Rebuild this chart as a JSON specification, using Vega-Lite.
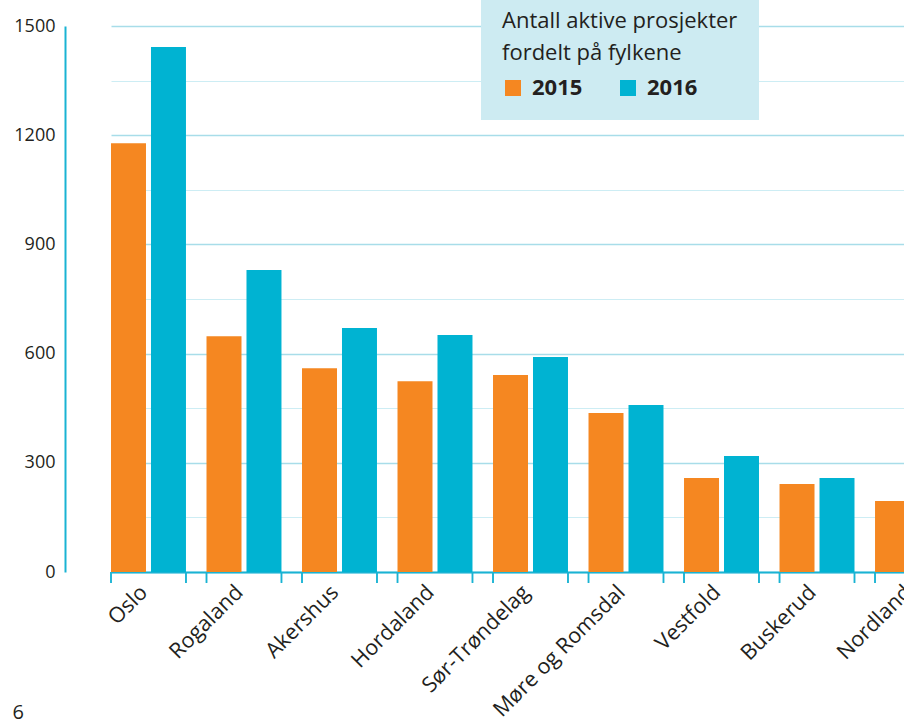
{
  "$schema": "https://vega.github.io/schema/vega-lite/v6.json",
  "autosize": {"type": "none"},
  "padding": {"left": 65, "top": 26, "right": 0, "bottom": 152},
  "width": 839,
  "height": 546,
  "data": {
    "values": [
      {"fylke": "Oslo", "year": "2015", "value": 1178},
      {"fylke": "Oslo", "year": "2016", "value": 1442},
      {"fylke": "Rogaland", "year": "2015", "value": 648},
      {"fylke": "Rogaland", "year": "2016", "value": 830},
      {"fylke": "Akershus", "year": "2015", "value": 560},
      {"fylke": "Akershus", "year": "2016", "value": 670},
      {"fylke": "Hordaland", "year": "2015", "value": 524},
      {"fylke": "Hordaland", "year": "2016", "value": 651},
      {"fylke": "Sør-Trøndelag", "year": "2015", "value": 541},
      {"fylke": "Sør-Trøndelag", "year": "2016", "value": 591},
      {"fylke": "Møre og Romsdal", "year": "2015", "value": 437},
      {"fylke": "Møre og Romsdal", "year": "2016", "value": 459},
      {"fylke": "Vestfold", "year": "2015", "value": 258},
      {"fylke": "Vestfold", "year": "2016", "value": 319},
      {"fylke": "Buskerud", "year": "2015", "value": 242},
      {"fylke": "Buskerud", "year": "2016", "value": 258},
      {"fylke": "Nordland", "year": "2015", "value": 195},
      {"fylke": "Nordland", "year": "2016", "value": 240}
    ]
  },
  "encoding": {
    "x": {
      "field": "fylke",
      "type": "nominal",
      "scale": {
        "domain": ["Oslo", "Rogaland", "Akershus", "Hordaland", "Sør-Trøndelag", "Møre og Romsdal", "Vestfold", "Buskerud", "Nordland"],
        "range": [46, 885],
        "paddingInner": 0.215,
        "paddingOuter": 0
      },
      "axis": {
        "title": null,
        "grid": false,
        "ticks": false,
        "domain": true,
        "domainColor": "#1AB3D3",
        "domainWidth": 2,
        "labelAngle": -45,
        "labelAlign": "right",
        "labelBaseline": "middle",
        "labelPadding": 17,
        "labelOffset": -4,
        "labelFontSize": 21.5,
        "labelColor": "#231F20",
        "labelOverlap": false,
        "labelLimit": 400
      }
    }
  },
  "layer": [
    {
      "mark": {"type": "bar"},
      "encoding": {
        "xOffset": {"field": "year", "type": "nominal", "scale": {"paddingInner": 0.125, "paddingOuter": 0}},
        "y": {
          "field": "value",
          "type": "quantitative",
          "scale": {"domain": [0, 1500], "nice": false},
          "axis": {
            "title": "6",
            "titleAngle": 0,
            "titleAlign": "left",
            "titleBaseline": "alphabetic",
            "titleX": -53,
            "titleY": 692,
            "titleFontSize": 20,
            "titleFontWeight": "normal",
            "titleColor": "#231F20",
            "values": [0, 150, 300, 450, 600, 750, 900, 1050, 1200, 1350, 1500],
            "labelExpr": "datum.value % 300 === 0 ? format(datum.value, 'd') : ''",
            "ticks": false,
            "domain": true,
            "domainColor": "#1AB3D3",
            "domainWidth": 2,
            "labelFontSize": 18,
            "labelPadding": 10,
            "labelColor": "#231F20",
            "grid": true,
            "gridColor": {"condition": {"test": "datum.value % 300 === 0", "value": "#A8DDE9"}, "value": "#CDEDF4"},
            "gridWidth": {"condition": {"test": "datum.value % 300 === 0", "value": 1.6}, "value": 1.2}
          }
        },
        "color": {
          "field": "year",
          "type": "nominal",
          "scale": {"domain": ["2015", "2016"], "range": ["#F58721", "#00B3D2"]},
          "legend": {
            "title": ["Antall aktive prosjekter", "fordelt på fylkene"],
            "orient": "none",
            "legendX": 416,
            "legendY": -36,
            "direction": "horizontal",
            "fillColor": "#CDEBF2",
            "padding": 21,
            "titleFontSize": 22,
            "titleFontWeight": "normal",
            "titleColor": "#231F20",
            "titleLineHeight": 32,
            "titlePadding": 12,
            "titleLimit": 500,
            "labelFontSize": 22,
            "labelFontWeight": "bold",
            "labelColor": "#231F20",
            "labelOffset": 8,
            "columnPadding": 34,
            "symbolType": "square",
            "symbolSize": 256,
            "symbolStrokeWidth": 0
          }
        }
      }
    },
    {
      "mark": {"type": "rule", "color": "#1AB3D3", "strokeWidth": 1.5},
      "encoding": {
        "x": {"field": "fylke", "type": "nominal", "bandPosition": 0},
        "y": {"datum": 0},
        "y2": {"datum": -30}
      }
    },
    {
      "mark": {"type": "rule", "color": "#1AB3D3", "strokeWidth": 1.5},
      "encoding": {
        "x": {"field": "fylke", "type": "nominal", "bandPosition": 1},
        "y": {"datum": 0},
        "y2": {"datum": -30}
      }
    }
  ],
  "config": {
    "font": "Open Sans",
    "view": {"stroke": null}
  }
}
